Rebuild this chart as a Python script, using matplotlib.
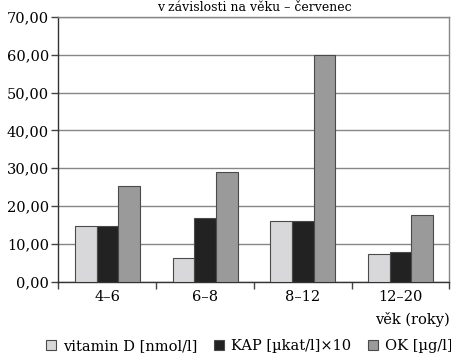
import numpy as np
import matplotlib
matplotlib.use("Agg")
import matplotlib.pyplot as plt
from matplotlib.lines import Line2D

# age groups and measured values
categories = ["4–6", "6–8", "8–12", "12–20"]
vitamin_d = [14.6, 6.1, 16.1, 7.2]
kap = [14.6, 16.7, 16.1, 7.8]
ok = [25.3, 29.1, 59.9, 17.5]
series_labels = ["vitamin D [nmol/l]", "KAP [µkat/l]×10", "OK [µg/l]"]
yticks = [0, 10, 20, 30, 40, 50, 60, 70]

plt.rcParams["font.family"] = ["DejaVu Serif", "Liberation Serif"]
fs = 10.5

fig = plt.figure(figsize=(4.51, 3.55), dpi=100)
ax = fig.add_axes([58.5 / 451, 73.5 / 355, 391 / 451, 264.5 / 355])

colors = ["#d8d8da", "#222222", "#9a9a9a"]
width = 0.222
x = np.arange(len(categories)) + 0.5
for i, vals in enumerate([vitamin_d, kap, ok]):
    ax.bar(x + (i - 1) * width, vals, width, color=colors[i],
           edgecolor="#4a4a4a", linewidth=0.8, zorder=3)

ax.set_xlim(0, len(categories))
ax.set_ylim(0, 70)
ax.set_yticks(yticks)
ax.set_yticklabels([f"{v:.2f}".replace(".", ",") for v in yticks], fontsize=fs)
ax.yaxis.grid(True, color="#868686", linewidth=1.0, zorder=0)

# group boundaries carry the tick marks, labels sit between them
ax.set_xticks(np.arange(len(categories) + 1))
ax.set_xticklabels([])
ax.set_xticks(x, minor=True)
ax.set_xticklabels(categories, minor=True, fontsize=fs)
ax.tick_params(axis="x", which="minor", length=0, pad=6)
ax.tick_params(axis="x", which="major", length=5, width=1, color="#444444")
ax.tick_params(axis="y", length=5, width=1, color="#444444", pad=2)

for s in ["left", "bottom"]:
    ax.spines[s].set_color("#333333")
    ax.spines[s].set_linewidth(1.0)
for s in ["top", "right"]:
    ax.spines[s].set_color("#868686")
    ax.spines[s].set_linewidth(1.0)

ax.text(1.0, -0.115, "věk (roky)", transform=ax.transAxes, ha="right",
        va="top", fontsize=fs)

fig.text(0.565, 1 - 1 / 355, "v závislosti na věku – červenec",
         ha="center", va="top", fontsize=9)

handles = [Line2D([], [], marker="s", linestyle="none", markersize=7,
                  markerfacecolor=c, markeredgecolor="#4a4a4a",
                  markeredgewidth=0.8) for c in colors]
fig.legend(handles, series_labels, loc="lower center", ncol=3,
           bbox_to_anchor=(0.55, -0.032), frameon=False,
           handletextpad=0.3, columnspacing=1.0, handlelength=1.0,
           prop={"size": fs})

fig.savefig("out.png", dpi=100)
